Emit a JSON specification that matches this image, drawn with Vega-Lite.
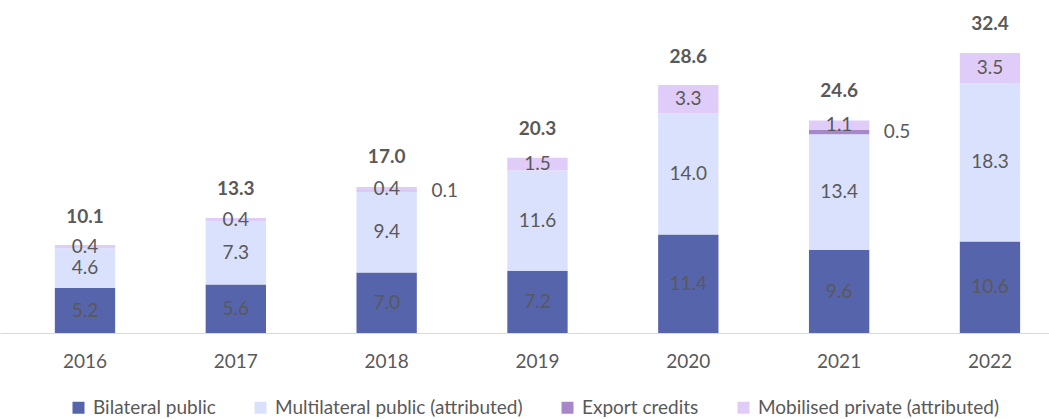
{
  "$schema": "https://vega.github.io/schema/vega-lite/v6.json",
  "width": 1049,
  "height": 311,
  "autosize": {"type": "none"},
  "padding": {"top": 22, "left": 0, "right": 0, "bottom": 86},
  "background": "white",
  "config": {
    "view": {"stroke": null},
    "font": "Lato",
    "text": {"font": "Lato"}
  },
  "datasets": {
    "segments": [
      {"year": "2016", "type": "Bilateral public", "value": 5.2, "order": 1},
      {"year": "2016", "type": "Multilateral public (attributed)", "value": 4.6, "order": 2},
      {"year": "2016", "type": "Export credits", "value": 0.0, "order": 3},
      {"year": "2016", "type": "Mobilised private (attributed)", "value": 0.4, "order": 4},
      {"year": "2017", "type": "Bilateral public", "value": 5.6, "order": 1},
      {"year": "2017", "type": "Multilateral public (attributed)", "value": 7.3, "order": 2},
      {"year": "2017", "type": "Export credits", "value": 0.0, "order": 3},
      {"year": "2017", "type": "Mobilised private (attributed)", "value": 0.4, "order": 4},
      {"year": "2018", "type": "Bilateral public", "value": 7.0, "order": 1},
      {"year": "2018", "type": "Multilateral public (attributed)", "value": 9.4, "order": 2},
      {"year": "2018", "type": "Export credits", "value": 0.1, "order": 3},
      {"year": "2018", "type": "Mobilised private (attributed)", "value": 0.4, "order": 4},
      {"year": "2019", "type": "Bilateral public", "value": 7.2, "order": 1},
      {"year": "2019", "type": "Multilateral public (attributed)", "value": 11.6, "order": 2},
      {"year": "2019", "type": "Export credits", "value": 0.0, "order": 3},
      {"year": "2019", "type": "Mobilised private (attributed)", "value": 1.5, "order": 4},
      {"year": "2020", "type": "Bilateral public", "value": 11.4, "order": 1},
      {"year": "2020", "type": "Multilateral public (attributed)", "value": 14.0, "order": 2},
      {"year": "2020", "type": "Export credits", "value": 0.0, "order": 3},
      {"year": "2020", "type": "Mobilised private (attributed)", "value": 3.3, "order": 4},
      {"year": "2021", "type": "Bilateral public", "value": 9.6, "order": 1},
      {"year": "2021", "type": "Multilateral public (attributed)", "value": 13.4, "order": 2},
      {"year": "2021", "type": "Export credits", "value": 0.5, "order": 3},
      {"year": "2021", "type": "Mobilised private (attributed)", "value": 1.1, "order": 4},
      {"year": "2022", "type": "Bilateral public", "value": 10.6, "order": 1},
      {"year": "2022", "type": "Multilateral public (attributed)", "value": 18.3, "order": 2},
      {"year": "2022", "type": "Export credits", "value": 0.0, "order": 3},
      {"year": "2022", "type": "Mobilised private (attributed)", "value": 3.5, "order": 4}
    ],
    "totals": [
      {"year": "2016", "total": 10.1},
      {"year": "2017", "total": 13.3},
      {"year": "2018", "total": 17.0},
      {"year": "2019", "total": 20.3},
      {"year": "2020", "total": 28.6},
      {"year": "2021", "total": 24.6},
      {"year": "2022", "total": 32.4}
    ]
  },
  "layer": [
    {
      "data": {"name": "segments"},
      "transform": [{"filter": "datum.value > 0"}],
      "mark": {"type": "bar"},
      "encoding": {
        "x": {
          "field": "year", "type": "nominal",
          "scale": {"paddingInner": 0.6, "paddingOuter": 0.2775, "align": 0.655},
          "axis": {
            "title": null, "labelAngle": 0, "ticks": false,
            "labelPadding": 19, "labelFontSize": 19, "labelFontWeight": "normal", "labelColor": "#595959",
            "domainColor": "#D9D9D9", "domainWidth": 1, "labelFont": "Lato"
          }
        },
        "y": {
          "field": "value", "type": "quantitative", "stack": "zero",
          "scale": {"domain": [0, 36], "nice": false},
          "axis": null
        },
        "color": {
          "field": "type", "type": "nominal",
          "scale": {
            "domain": ["Bilateral public", "Multilateral public (attributed)", "Export credits", "Mobilised private (attributed)"],
            "range": ["#5664AC", "#DAE1FC", "#A688C8", "#E0CCF9"]
          },
          "legend": {
            "title": null, "orient": "none", "legendX": 69, "legendY": 376, "direction": "horizontal",
            "symbolType": "square", "symbolSize": 144, "symbolStrokeWidth": 0,
            "labelFontSize": 19, "labelColor": "#595959", "labelLimit": 400, "labelOffset": 5,
            "columnPadding": 35, "labelFont": "Lato", "padding": 0
          }
        },
        "order": {"field": "order", "type": "quantitative"}
      }
    },
    {
      "data": {"name": "segments"},
      "transform": [
        {"stack": "value", "groupby": ["year"], "sort": [{"field": "order"}], "as": ["y0", "y1"]},
        {"calculate": "(datum.y0 + datum.y1) / 2", "as": "mid"},
        {"filter": "datum.value > 0 && datum.type != 'Export credits'"}
      ],
      "mark": {"type": "text", "fontSize": 19, "color": "#595959", "baseline": "middle"},
      "encoding": {
        "x": {"field": "year", "type": "nominal"},
        "y": {"field": "mid", "type": "quantitative"},
        "text": {"field": "value", "type": "quantitative", "format": ".1f"}
      }
    },
    {
      "data": {"name": "segments"},
      "transform": [
        {"stack": "value", "groupby": ["year"], "sort": [{"field": "order"}], "as": ["y0", "y1"]},
        {"calculate": "(datum.y0 + datum.y1) / 2", "as": "mid"},
        {"filter": "datum.value > 0 && datum.type == 'Export credits'"}
      ],
      "mark": {"type": "text", "fontSize": 19, "color": "#595959", "baseline": "middle", "dx": 58},
      "encoding": {
        "x": {"field": "year", "type": "nominal"},
        "y": {"field": "mid", "type": "quantitative"},
        "text": {"field": "value", "type": "quantitative", "format": ".1f"}
      }
    },
    {
      "data": {"name": "totals"},
      "mark": {"type": "text", "fontSize": 19, "fontWeight": "bold", "color": "#595959", "baseline": "middle", "dy": -29},
      "encoding": {
        "x": {"field": "year", "type": "nominal"},
        "y": {"field": "total", "type": "quantitative"},
        "text": {"field": "total", "type": "quantitative", "format": ".1f"}
      }
    }
  ]
}
